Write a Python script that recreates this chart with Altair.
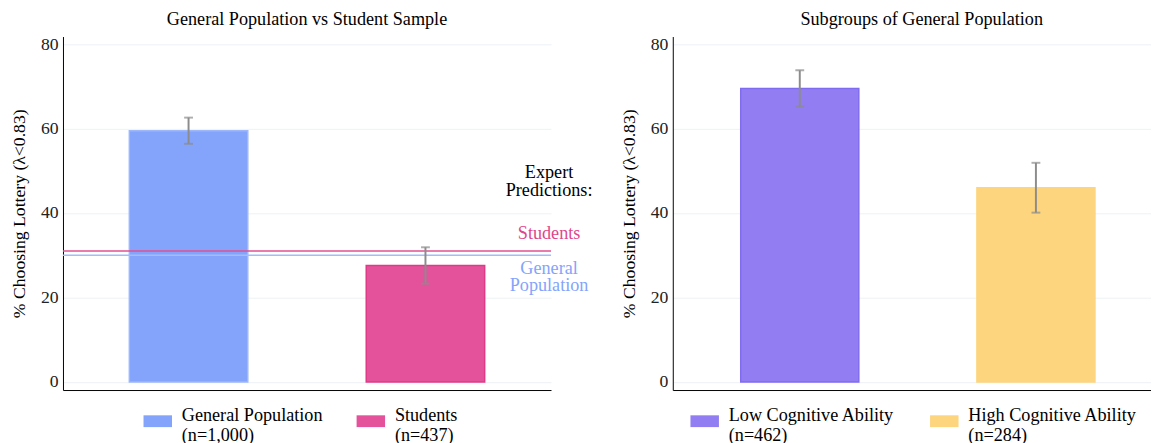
import altair as alt
import pandas as pd

# ---------------- data ----------------
left_groups = ["General Population", "Students"]
left_n = ["(n=1,000)", "(n=437)"]
left_values = [59.5, 27.6]
left_err = [3.1, 4.3]
left_fill = ["#84a4fc", "#e3529a"]
left_stroke = ["#9db6fc", "#de3a88"]

expert_labels = ["Students", "General Population"]
expert_values = [31.0, 30.0]
expert_colors = ["#e0508f", "#a3bcfb"]

right_groups = ["Low Cognitive Ability", "High Cognitive Ability"]
right_n = ["(n=462)", "(n=284)"]
right_values = [69.5, 46.0]
right_err = [4.3, 5.9]
right_fill = ["#927ef2", "#fdd57f"]
right_stroke = ["#7f6bf0", "#fdd57f"]

y_ticks = [0, 20, 40, 60, 80]
y_title = "% Choosing Lottery (λ<0.83)"

FONT = "Liberation Serif"
FS = 18.5
PLOT_H = 360


def panel(groups, ns, values, errs, fills, strokes, title, width, pad_outer, align, legend_x,
          col_pad, title_dx=0, extra=None):
    keys = [f"{g}|{n}" for g, n in zip(groups, ns)]
    df = pd.DataFrame({
        "key": keys,
        "value": values,
        "lo": [v - e for v, e in zip(values, errs)],
        "hi": [v + e for v, e in zip(values, errs)],
        "stroke": strokes,
    })
    x = alt.X("key:N", sort=keys,
              scale=alt.Scale(paddingInner=0.5, paddingOuter=pad_outer, align=align),
              axis=alt.Axis(labels=False, ticks=False, title=None, domain=True,
                            domainColor="black", domainWidth=1, grid=False))
    yscale = alt.Scale(domain=[-1.9, 81.8], nice=False, zero=False)
    yaxis = alt.Axis(values=y_ticks, title=y_title, grid=True,
                     labelFont=FONT, labelFontSize=18, labelColor="#222", labelPadding=5,
                     ticks=False, tickSize=0, domainColor="black", domainWidth=1,
                     gridColor="#edf2f4", gridWidth=1,
                     titleFont=FONT, titleFontSize=18, titleFontWeight="normal",
                     titleColor="black", titlePadding=12)
    base = alt.Chart(df)
    bars = base.mark_bar(strokeWidth=1.5).encode(
        x=x,
        y=alt.Y("value:Q", scale=yscale, axis=yaxis),
        y2=alt.datum(0),
        fill=alt.Fill("key:N", sort=keys,
                      scale=alt.Scale(domain=keys, range=fills),
                      legend=alt.Legend(orient="none", legendX=legend_x, legendY=377,
                                        direction="horizontal", title=None,
                                        columnPadding=col_pad,
                                        labelBaseline="alphabetic",
                                        labelExpr="split(datum.label, '|')")),
        stroke=alt.Stroke("stroke:N", scale=None),
    )
    err = base.mark_rule(color="#8c8c8c", strokeWidth=2).encode(
        x=alt.X("key:N", sort=keys), y="lo:Q", y2="hi:Q")
    cap_lo = base.mark_tick(color="#8c8c8c", thickness=2, size=9, orient="horizontal").encode(
        x=alt.X("key:N", sort=keys), y="lo:Q")
    cap_hi = base.mark_tick(color="#8c8c8c", thickness=2, size=9, orient="horizontal").encode(
        x=alt.X("key:N", sort=keys), y="hi:Q")
    layers = [bars]
    if extra:
        layers += extra
    layers += [err, cap_lo, cap_hi]
    return alt.layer(*layers).properties(
        width=width, height=PLOT_H,
        title=alt.TitleParams(title, font=FONT, fontSize=FS, fontWeight="normal",
                              color="black", anchor="middle", frame="group", offset=7,
                              dx=title_dx),
    )


# expert prediction lines and annotation text (left panel)
exp_df = pd.DataFrame({"label": expert_labels, "value": expert_values, "col": expert_colors})
expert_rules = alt.Chart(exp_df).mark_rule(strokeWidth=1.6).encode(
    y="value:Q", stroke=alt.Stroke("col:N", scale=None))

TX = 495
stud_df = exp_df[exp_df["label"] == "Students"]
gen_df = exp_df[exp_df["label"] == "General Population"]
txt_expert = alt.Chart(stud_df).mark_text(
    text=["Expert", "Predictions:"], font=FONT, fontSize=FS, color="black",
    align="center", baseline="alphabetic", lineHeight=17.5, dy=-74
).encode(x=alt.value(TX), y="value:Q")
txt_students = alt.Chart(stud_df).mark_text(
    text="Students", font=FONT, fontSize=FS, color="#e0458c",
    align="center", baseline="alphabetic", dy=-12
).encode(x=alt.value(TX), y="value:Q")
txt_general = alt.Chart(gen_df).mark_text(
    text=["General", "Population"], font=FONT, fontSize=FS, color="#84a4fc",
    align="center", baseline="alphabetic", lineHeight=17.5, dy=19
).encode(x=alt.value(TX), y="value:Q")

left = panel(left_groups, left_n, left_values, left_err, left_fill, left_stroke,
             "General Population vs Student Sample", 497, 0.28, 0.5, 82, 34,
             extra=[expert_rules, txt_expert, txt_students, txt_general])
right = panel(right_groups, right_n, right_values, right_err, right_fill, right_stroke,
              "Subgroups of General Population", 487, 0.2625, 0.548, 18, 36, title_dx=10)

chart = alt.hconcat(left, right, spacing=28).resolve_scale(
    fill="independent", stroke="independent", x="independent", y="independent"
).resolve_legend(fill="independent").properties(
    padding={"left": 3, "top": -2, "right": 0, "bottom": 0}
).configure(font=FONT).configure_view(stroke=None).configure_axis(
    labelFont=FONT, titleFont=FONT,
).configure_legend(
    symbolType="M-1,-0.414L1,-0.414L1,0.414L-1,0.414Z", symbolSize=841,
    symbolStrokeWidth=0, symbolOpacity=1,
    labelFont=FONT, labelFontSize=FS, labelColor="black", labelOffset=10,
    labelLimit=400,
)

chart.save("out.html", embed_options={"renderer": "svg", "actions": False})
